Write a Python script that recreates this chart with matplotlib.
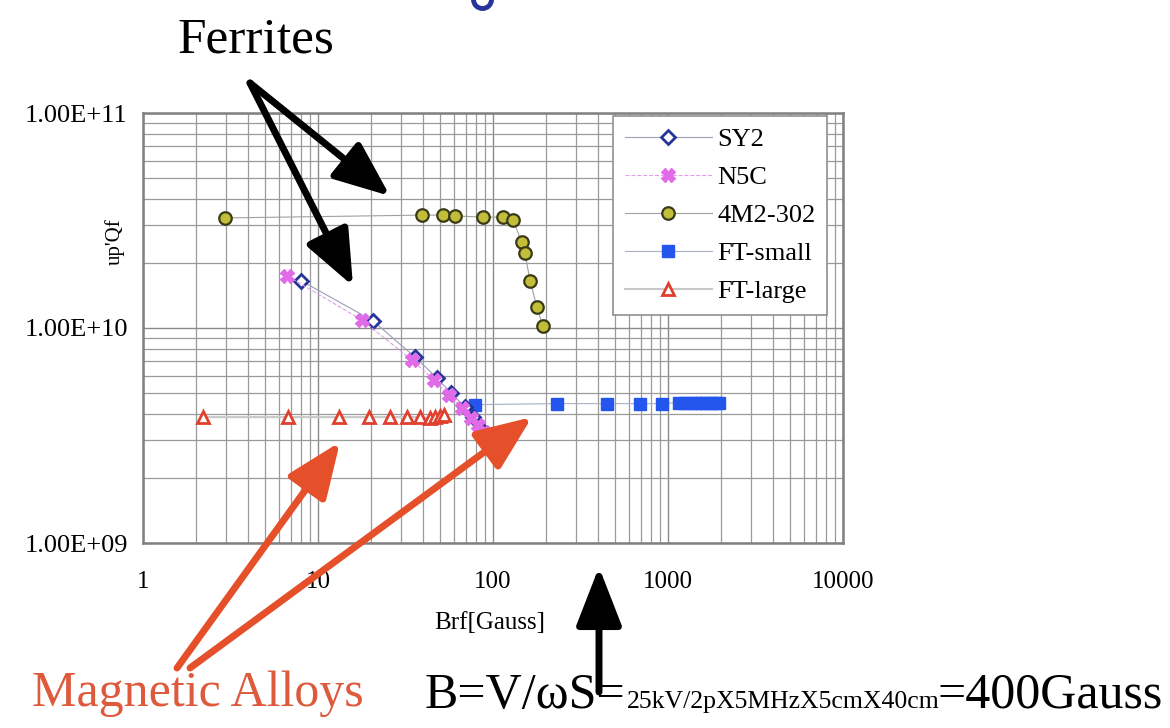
import matplotlib
matplotlib.use("Agg")
import matplotlib.pyplot as plt
from matplotlib.patches import FancyArrowPatch
from matplotlib.lines import Line2D

plt.rcParams['font.family'] = ['Liberation Serif', 'DejaVu Serif']

# measured u'Qf against RF field for each core material
sy2_b = [8.0, 20.6, 35.8, 47.9, 57.5, 69.2, 76.9, 84.3, 90.0]
sy2_q = [1.66e10, 1.08e10, 7.33e9, 5.85e9, 4.99e9, 4.29e9, 3.85e9, 3.43e9, 3.11e9]

n5c_b = [6.65, 17.8, 34.4, 46.0, 56.1, 66.5, 74.9, 82.1, 88.8]
n5c_q = [1.75e10, 1.09e10, 7.1e9, 5.73e9, 4.88e9, 4.25e9, 3.81e9, 3.54e9, 3.28e9]

m4_b = [2.94, 39.3, 51.8, 60.6, 87.7, 114, 130, 146, 152, 163, 178, 193]
m4_q = [3.25e10, 3.35e10, 3.35e10, 3.32e10, 3.28e10, 3.28e10, 3.18e10,
        2.51e10, 2.23e10, 1.66e10, 1.25e10, 1.02e10]

fts_b = [79, 232, 448, 692, 925, 1150, 1250, 1350, 1450, 1550, 1650, 1750, 1850, 1950]
fts_q = [4.4e9, 4.45e9, 4.45e9, 4.45e9, 4.45e9, 4.5e9, 4.5e9, 4.5e9,
         4.5e9, 4.5e9, 4.5e9, 4.5e9, 4.5e9, 4.5e9]

ftl_b = [2.2, 6.7, 13.2, 19.6, 25.8, 32.3, 38.3, 43.6, 46.6, 49.8, 52.5]
ftl_q = [3.85e9, 3.85e9, 3.85e9, 3.85e9, 3.85e9, 3.85e9, 3.85e9,
         3.8e9, 3.85e9, 3.9e9, 3.95e9]

x_ticks = [1, 10, 100, 1000, 10000]
x_ticklabels = ['1', '10', '100', '1000', '10000']
y_ticks = [1e9, 1e10, 1e11]
y_ticklabels = ['1.00E+09', '1.00E+10', '1.00E+11']

W, H = 1170, 728
fig = plt.figure(figsize=(W / 100, H / 100), dpi=100)
ax = fig.add_axes([143 / W, 1 - 543 / H, 700 / W, 430 / H])

ax.plot(sy2_b, sy2_q, '-', color='#9aa0b8', lw=0.8, marker='D', ms=7,
        mfc='white', mec='#27359a', mew=2, label='SY2', zorder=4)
ax.plot(n5c_b, n5c_q, '--', color='#e0a0e8', lw=0.8, marker='X', ms=10,
        mfc='#e06ae8', mec='#e06ae8', label='N5C', zorder=5)
ax.plot(m4_b, m4_q, '-', color='#a0a0a0', lw=0.8, marker='o', ms=9,
        mfc='#c2be3a', mec='#3a3a18', mew=1.6, label='4M2-302', zorder=4)
ax.plot(fts_b, fts_q, '-', color='#a8b0c8', lw=0.8, marker='s', ms=9,
        mfc='#2456ee', mec='#2456ee', label='FT-small', zorder=3)
ax.plot(ftl_b, ftl_q, '-', color='#c8c8c8', lw=1.5, marker='^', ms=9,
        mfc='white', mec='#e0402e', mew=2, label='FT-large', zorder=3)

ax.set_xscale('log')
ax.set_yscale('log')
ax.set_xlim(1, 10000)
ax.set_ylim(1e9, 1e11)
ax.set_xticks(x_ticks)
ax.set_xticklabels(x_ticklabels)
ax.set_yticks(y_ticks)
ax.set_yticklabels(y_ticklabels)
ax.minorticks_on()
ax.tick_params(which='both', length=0)
ax.tick_params(axis='x', pad=20, labelsize=18)
ax.tick_params(axis='y', pad=11, labelsize=19)
ax.tick_params(which='minor', labelbottom=False, labelleft=False)
ax.grid(True, which='major', color='#8a8a8a', lw=1.0)
ax.grid(True, which='minor', color='#9a9a9a', lw=0.9)
for s in ax.spines.values():
    s.set_color('#808080')
    s.set_linewidth(1.8)

ax.set_xlabel('Brf[Gauss]', fontsize=18)
ax.xaxis.set_label_coords(0.496, -0.16)
ax.set_ylabel("up'Qf", fontsize=15)
ax.yaxis.set_label_coords(-0.026, 0.7)

leg = ax.legend(loc='upper left', bbox_to_anchor=(470 / 700, 0.993),
                fontsize=19, frameon=True, fancybox=False, framealpha=1,
                edgecolor='#909090', handlelength=3.3, handletextpad=0.2,
                labelspacing=0.55, borderpad=0.45, borderaxespad=0)
leg.get_frame().set_linewidth(1.2)


def fpt(x, y):
    return (x / W, 1 - y / H)


def arrow(p0, p1, color, lw, hl, hw):
    a = FancyArrowPatch(fpt(*p0), fpt(*p1), transform=fig.transFigure,
                        arrowstyle='-|>,head_length=%g,head_width=%g' % (hl, hw),
                        color=color, lw=lw, mutation_scale=1, shrinkA=0, shrinkB=0)
    fig.add_artist(a)


# annotations around the plot
fig.text(*fpt(256, 40), 'Ferrites', fontsize=37, ha='center', va='center')
arrow((250, 83), (390, 196), 'black', 5, 34, 14)
arrow((250, 83), (353, 286), 'black', 5, 34, 14)

red = '#e5502a'
fig.text(*fpt(198, 694), 'Magnetic Alloys', fontsize=36, color='#dd5a3c',
         ha='center', va='center')
arrow((177, 668), (340, 442), red, 5, 34, 14)
arrow((190, 668), (532, 417), red, 5, 34, 14)

arrow((599, 692), (599, 567), 'black', 5, 36, 14)
fig.text(*fpt(425, 708), 'B=V/\u03c9S=', fontsize=36, ha='left', va='baseline')
fig.text(*fpt(627, 708), '25kV/2pX5MHzX5cmX40cm', fontsize=18.5,
         ha='left', va='baseline')
fig.text(*fpt(937, 708), '=400Gauss', fontsize=36, ha='left', va='baseline')

# stray marker cut by the top edge
fig.add_artist(Line2D([482 / W], [1 + 1 / H], transform=fig.transFigure,
                      marker='o', ms=13, mfc='none', mec='#27359a', mew=3.5))

fig.savefig('out.png', dpi=100)
